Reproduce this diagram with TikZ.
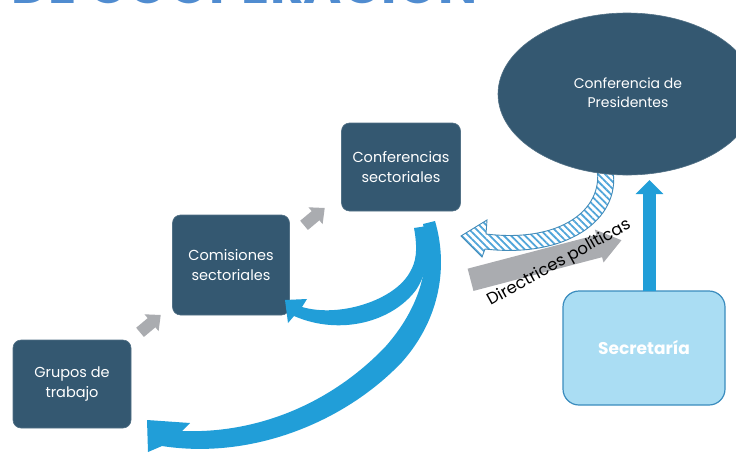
\documentclass[tikz,border=0pt]{standalone}
\usepackage{fontspec}
\setmainfont{Poppins}
\usetikzlibrary{patterns,patterns.meta,arrows.meta,shapes.geometric}
\definecolor{boxc}{RGB}{52,88,113}
\definecolor{blueA}{RGB}{33,158,216}
\definecolor{secfill}{RGB}{170,221,243}
\definecolor{secdraw}{RGB}{58,140,190}
\definecolor{greyc}{RGB}{170,172,176}
\definecolor{hatchc}{RGB}{80,165,218}
\definecolor{titlec}{RGB}{80,140,208}
\begin{document}
\begin{tikzpicture}[x=1pt,y=-1pt,
  box/.style={rectangle, rounded corners=8pt, fill=boxc, draw=boxc!85!white, line width=0.6pt,
    text=white, align=center, font=\fontsize{14.5}{20}\selectfont, inner sep=0pt},
  greyarr/.style={fill=greyc, draw=none},
  bluearr/.style={fill=blueA, draw=none},
  hatcharr/.style={draw=hatchc!85!black, line width=0.9pt,
    pattern={Lines[angle=-45, distance=5pt, line width=1.8pt]}, pattern color=hatchc}]
\useasboundingbox (0,0) rectangle (736,453);
\begin{scope}
\clip (0,0) rectangle (736,453);
\fill[white] (0,0) rectangle (736,453);
% clipped title
\node[anchor=base west, inner sep=0pt, text=titlec] (title) at (11,3)
  {\resizebox{466pt}{!}{\bfseries DE COOPERACIÓN}};
% boxes
\node[box, minimum width=118pt, minimum height=88pt] (gt) at (72,384) {Grupos de\\trabajo};
\node[box, minimum width=117pt, minimum height=100pt] (cs) at (231,265) {Comisiones\\sectoriales};
\node[box, minimum width=119pt, minimum height=88pt] (cfs) at (401,167) {Conferencias\\sectoriales};
% small grey arrows
\begin{scope}[shift={(150,324)}, rotate=40]
  \fill[greyarr] (-13,-6) -- (2,-6) -- (2,-11) -- (14,0) -- (2,11) -- (2,6) -- (-13,6) -- cycle;
\end{scope}
\begin{scope}[shift={(314,217)}, rotate=40]
  \fill[greyarr] (-13,-6) -- (2,-6) -- (2,-11) -- (14,0) -- (2,11) -- (2,6) -- (-13,6) -- cycle;
\end{scope}
% blue curved arrow to Comisiones
\fill[bluearr] (414,228) .. controls (418,250) and (416,262) .. (410,272)
  .. controls (395,300) and (340,318) .. (302,307)
  -- (307,299) -- (285,300) -- (288,323) -- (294,316)
  .. controls (340,336) and (392,322) .. (416,290)
  .. controls (428,272) and (430,250) .. (427,226) -- cycle;
% blue curved arrow to Grupos
\fill[bluearr] (423,224) .. controls (431,262) and (422,305) .. (386,346)
  .. controls (335,400) and (262,434) .. (182,431)
  -- (190,423) -- (147,420) -- (148,452) -- (162,446)
  .. controls (252,460) and (345,422) .. (402,362)
  .. controls (441,318) and (448,265) .. (435,221) -- cycle;
% big grey arrow
\begin{scope}[shift={(546,260)}, rotate=14.7]
  \fill[greyarr] (-78,-11.5) -- (55,-11.5) -- (55,-17) -- (78,0) -- (55,17) -- (55,11.5) -- (-78,11.5) -- cycle;
\end{scope}
% hatched curved arrow
\filldraw[hatcharr] (597,168) .. controls (604,210) and (560,243) .. (486,234)
  -- (487,220) -- (461,236) -- (482,257) -- (485,249)
  .. controls (572,259) and (624,215) .. (612,166) -- cycle;
% ellipse
\node[ellipse, fill=boxc, draw=boxc!85!white, line width=0.6pt, minimum width=258pt, minimum height=162pt, inner sep=0pt] (cp) at (627,94) {};
\node[text=white, align=center, font=\fontsize{14}{19}\selectfont] (cptext) at (628,93) {Conferencia de\\Presidentes};
% secretaria
\coordinate (vx) at (649.5,180);
\node[rectangle, rounded corners=16pt, fill=secfill, draw=secdraw, line width=1.2pt, minimum width=162pt, minimum height=114pt, text=white, font=\bfseries\fontsize{17}{20}\selectfont] (sec) at (644,348) {Secretaría};
\draw[blueA, line width=13pt, -{Triangle[length=14pt,width=27pt]}] ([yshift=-1pt]sec.north -| vx) -- (vx);
% label
\node[rotate=29, font=\fontsize{16.5}{18}\selectfont, inner sep=0pt] (dp) at (559,263) {Directrices políticas};
\end{scope}
\end{tikzpicture}
\end{document}
